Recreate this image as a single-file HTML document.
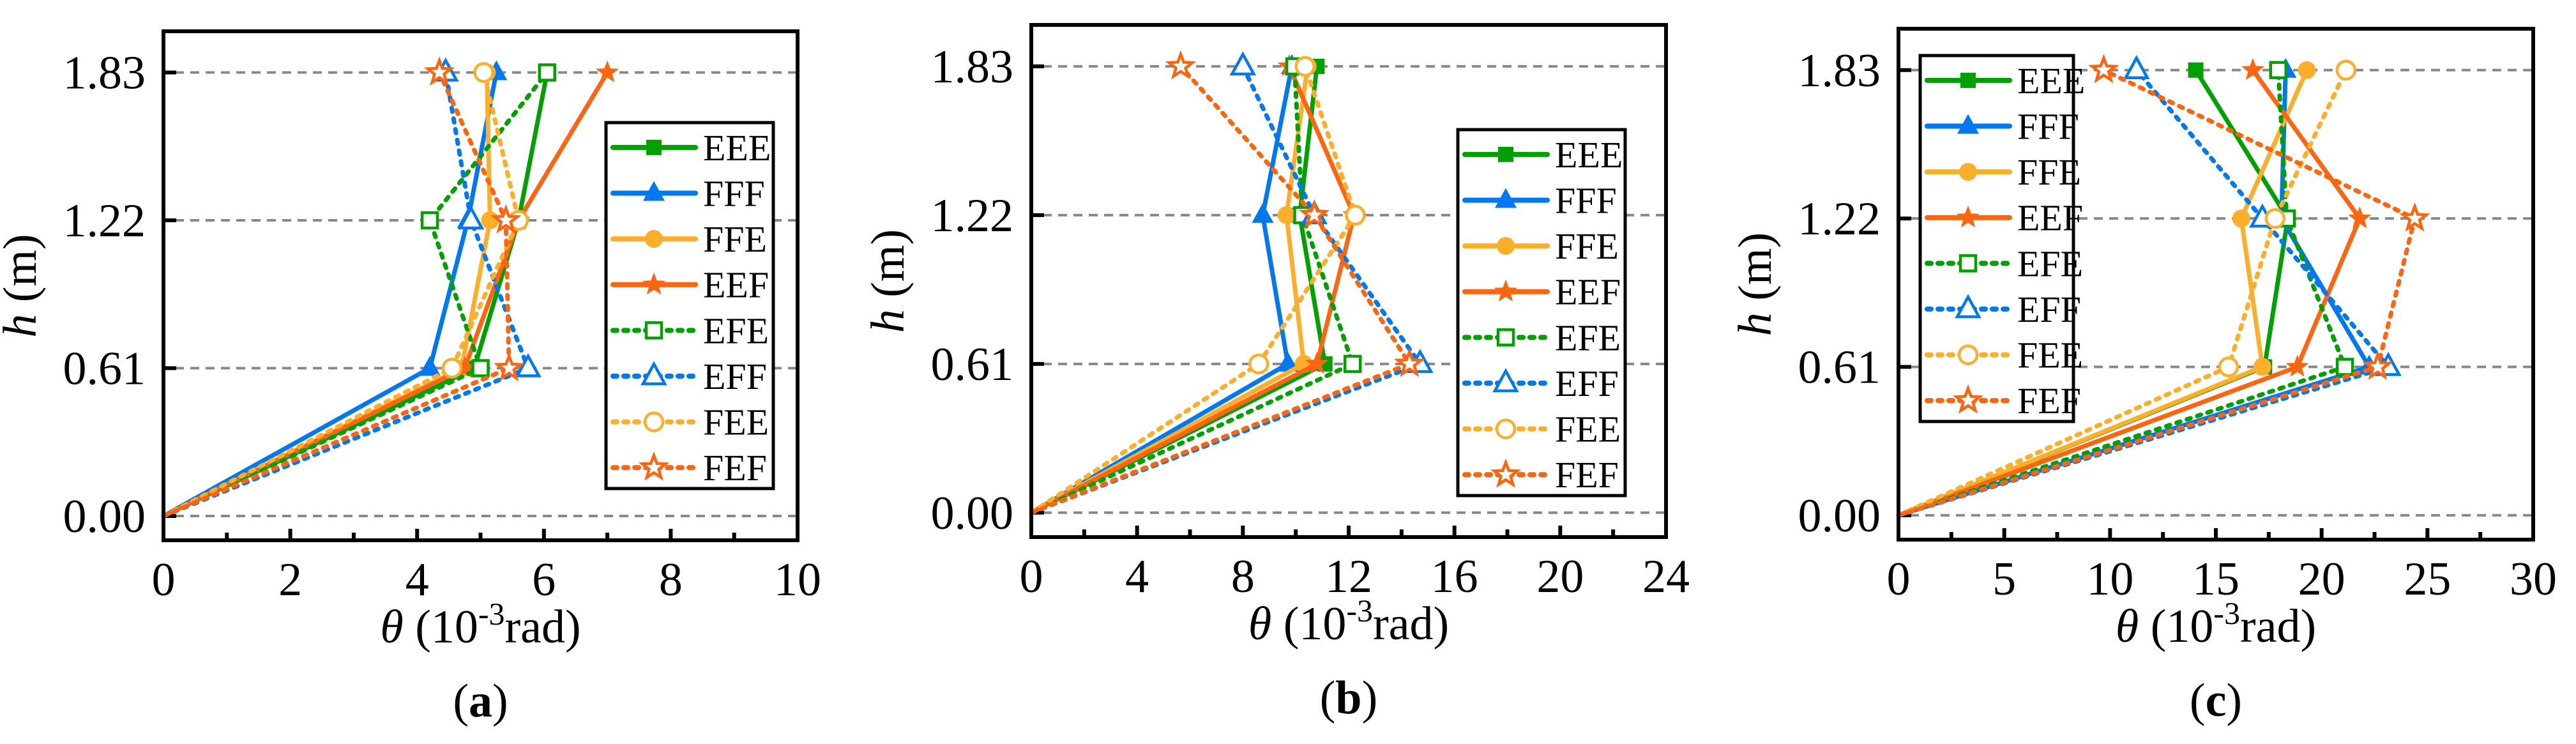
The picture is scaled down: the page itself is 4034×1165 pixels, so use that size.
<!DOCTYPE html>
<html><head><meta charset="utf-8"><style>
html,body{margin:0;padding:0;background:#fff;}
svg{display:block;}
svg text{font-family:"Liberation Serif","DejaVu Serif",serif;}
</style></head><body>
<svg id="fig" width="4034" height="1165" viewBox="0 0 4034 1165" xmlns="http://www.w3.org/2000/svg" font-family="Liberation Serif, serif"></svg>
<script>
const seriesNames = ["EEE","FFF","FFE","EEF","EFE","EFF","FEE","FEF"];
const heights = [0, 0.61, 1.22, 1.83];
const yTickLabels = ["0.00","0.61","1.22","1.83"];
const panelA = {
  EEE:[0,4.9,5.6,6.05], FFF:[0,4.2,4.8,5.25], FFE:[0,4.7,5.15,5.1], EEF:[0,4.75,5.6,7.0],
  EFE:[0,5.0,4.2,6.05], EFF:[0,5.75,4.85,4.45], FEE:[0,4.55,5.6,5.05], FEF:[0,5.45,5.4,4.35]
};
const panelB = {
  EEE:[0,11.1,10.15,10.8], FFF:[0,9.7,8.75,9.85], FFE:[0,10.3,9.65,10.45], EEF:[0,10.8,12.2,9.75],
  EFE:[0,12.15,10.25,9.95], EFF:[0,14.7,10.7,8.0], FEE:[0,8.6,12.25,10.35], FEF:[0,14.3,10.7,5.65]
};
const panelC = {
  EEE:[0,17.3,18.4,14.05], FFF:[0,22.25,18.1,18.3], FFE:[0,17.2,16.2,19.3], EEF:[0,18.85,21.8,16.75],
  EFE:[0,21.1,18.35,17.95], EFF:[0,23.15,17.2,11.25], FEE:[0,15.6,17.8,21.15], FEF:[0,22.65,24.4,9.7]
};
const xTicksA = [0,2,4,6,8,10];
const xTicksB = [0,4,8,12,16,20,24];
const xTicksC = [0,5,10,15,20,25,30];

const NS="http://www.w3.org/2000/svg";
const svg=document.getElementById('fig');
const FONT='Liberation Serif, DejaVu Serif, serif';
function el(tag,attrs,parent){const e=document.createElementNS(NS,tag);for(const k in attrs)e.setAttribute(k,attrs[k]);if(tag==='text')e.setAttribute('font-family',FONT);(parent||svg).appendChild(e);return e;}
const colors={EEE:"#00a000",FFF:"#0078f0",FFE:"#fdae2a",EEF:"#fd6510",EFE:"#00a000",EFF:"#0078f0",FEE:"#fdae2a",FEF:"#fd6510"};
const markers={EEE:"square",FFF:"tri",FFE:"circle",EEF:"star",EFE:"square",EFF:"tri",FEE:"circle",FEF:"star"};
const dotted={EEE:false,FFF:false,FFE:false,EEF:false,EFE:true,EFF:true,FEE:true,FEF:true};

function starPts(cx,cy,R){let p=[];for(let i=0;i<10;i++){const r=i%2?R*0.42:R;const a=-Math.PI/2+i*Math.PI/5;p.push((cx+r*Math.cos(a)).toFixed(1)+","+(cy+r*Math.sin(a)).toFixed(1));}return p.join(" ");}
function marker(g,type,cx,cy,col,filled,scale){
  const s=scale||1;const fill=filled?col:"#fff";const sw=filled?0:4.5;let m;
  const st=filled?"none":col;
  if(type==="square")m=el('rect',{x:cx-12*s,y:cy-12*s,width:24*s,height:24*s,fill:fill,stroke:st,'stroke-width':sw},g);
  else if(type==="tri")m=el('polygon',{points:`${cx},${cy-19*s} ${cx-17*s},${cy+12*s} ${cx+17*s},${cy+12*s}`,fill:fill,stroke:st,'stroke-width':sw},g);
  else if(type==="circle")m=el('circle',{cx:cx,cy:cy,r:14*s,fill:fill,stroke:st,'stroke-width':sw},g);
  else m=el('polygon',{points:starPts(cx,cy,19*s),fill:fill,stroke:st,'stroke-width':sw,'stroke-linejoin':'miter'},g);
  
  
}

function panel(id,data,xTicks,L,R,T,B,letter,leg){
  const xmax=xTicks[xTicks.length-1];
  const sx=v=>L+(v/xmax)*(R-L);
  const sy=h=>T+(2.0-h)/2.1*(B-T);
  const g=el('g',{});
  
  
  heights.forEach((h,i)=>{
    const gl=el('line',{x1:L+18,x2:R,y1:sy(h),y2:sy(h),stroke:"#888",'stroke-width':4,'stroke-dasharray':"14 10"},g);
    
    
    const tk=el('line',{x1:L,x2:L+20,y1:sy(h),y2:sy(h),stroke:"#000",'stroke-width':6},g);
    
    
    const t=el('text',{x:L-28,y:sy(h)+25,'text-anchor':'end','font-size':74},g);
    t.textContent=yTickLabels[i];
    
    
  });
  const step=xTicks[1]-xTicks[0];
  for(let v=0;v<=xmax+1e-9;v+=step/2){
    const major=Math.abs((v/step)-Math.round(v/step))<1e-6;
    const tk=el('line',{x1:sx(v),x2:sx(v),y1:B,y2:B-(major?18:12),stroke:"#000",'stroke-width':6},g);
    
    
  }
  xTicks.forEach(v=>{
    const t=el('text',{x:sx(v),y:B+86,'text-anchor':'middle','font-size':74},g);
    t.textContent=String(v);
    
    
  });
  seriesNames.forEach(n=>{
    const col=colors[n];const vals=data[n];
    const sg=el('g',{},g);
    
    
    const pts=vals.map((v,i)=>sx(v).toFixed(1)+","+sy(heights[i]).toFixed(1)).join(" ");
    const attrs={points:pts,fill:"none",stroke:col,'stroke-width':7,'stroke-linejoin':'round'};
    if(dotted[n]){attrs['stroke-dasharray']="6 11";attrs['stroke-linecap']='round';}
    const pl=el('polyline',attrs,sg);
    
    
    vals.forEach((v,i)=>{ if(i>0) marker(sg,markers[n],sx(v),sy(heights[i]),col,!dotted[n]); });
  });
  const fr=el('rect',{x:L,y:T,width:R-L,height:B-T,fill:"none",stroke:"#000",'stroke-width':6},g);
  
  
  const xt=el('text',{x:(L+R)/2,y:B+160,'text-anchor':'middle','font-size':74},g);
  xt.innerHTML='<tspan font-style="italic">θ</tspan> (10<tspan dy="-28" font-size="50">-3</tspan><tspan dy="28">rad)</tspan>';
  
  
  const yx=L-200, yc=(T+B)/2;
  const yt=el('text',{x:yx,y:yc,'text-anchor':'middle','font-size':74,transform:`rotate(-90 ${yx} ${yc})`},g);
  yt.innerHTML='<tspan font-style="italic">h</tspan> (m)';
  
  
  const cap=el('text',{x:(L+R)/2,y:B+276,'text-anchor':'middle','font-size':74},g);
  cap.innerHTML='(<tspan font-weight="bold">'+letter+'</tspan>)';
  
  
  const lg=el('g',{},g);
  
  
  const lb=el('rect',{x:leg.x,y:leg.y,width:leg.w,height:leg.h,fill:"#fff",stroke:"#000",'stroke-width':5},lg);
  
  
  const rowH=leg.h/8;
  seriesNames.forEach((n,i)=>{
    const cy=leg.y+rowH*(i+0.5)+3;
    const eg=el('g',{},lg);
    
    
    const a={x1:leg.x+11,x2:leg.x+140,y1:cy,y2:cy,stroke:colors[n],'stroke-width':8,'stroke-linecap':'round'};
    if(dotted[n])a['stroke-dasharray']="6 11";
    el('line',a,eg);
    marker(eg,markers[n],leg.x+75,cy,colors[n],!dotted[n],1);
    const t=el('text',{x:leg.x+152,y:cy+20,'font-size':58},eg);
    t.textContent=n;
  });
}
panel('a',panelA,xTicksA,256,1249,49,846,'a',{x:949,y:192,w:262,h:573});
panel('b',panelB,xTicksB,1615,2609,39,841,'b',{x:2283,y:203,w:262,h:573});
panel('c',panelC,xTicksC,2973,3967,45,845,'c',{x:3007,y:87,w:240,h:573});
</script>
</body></html>
